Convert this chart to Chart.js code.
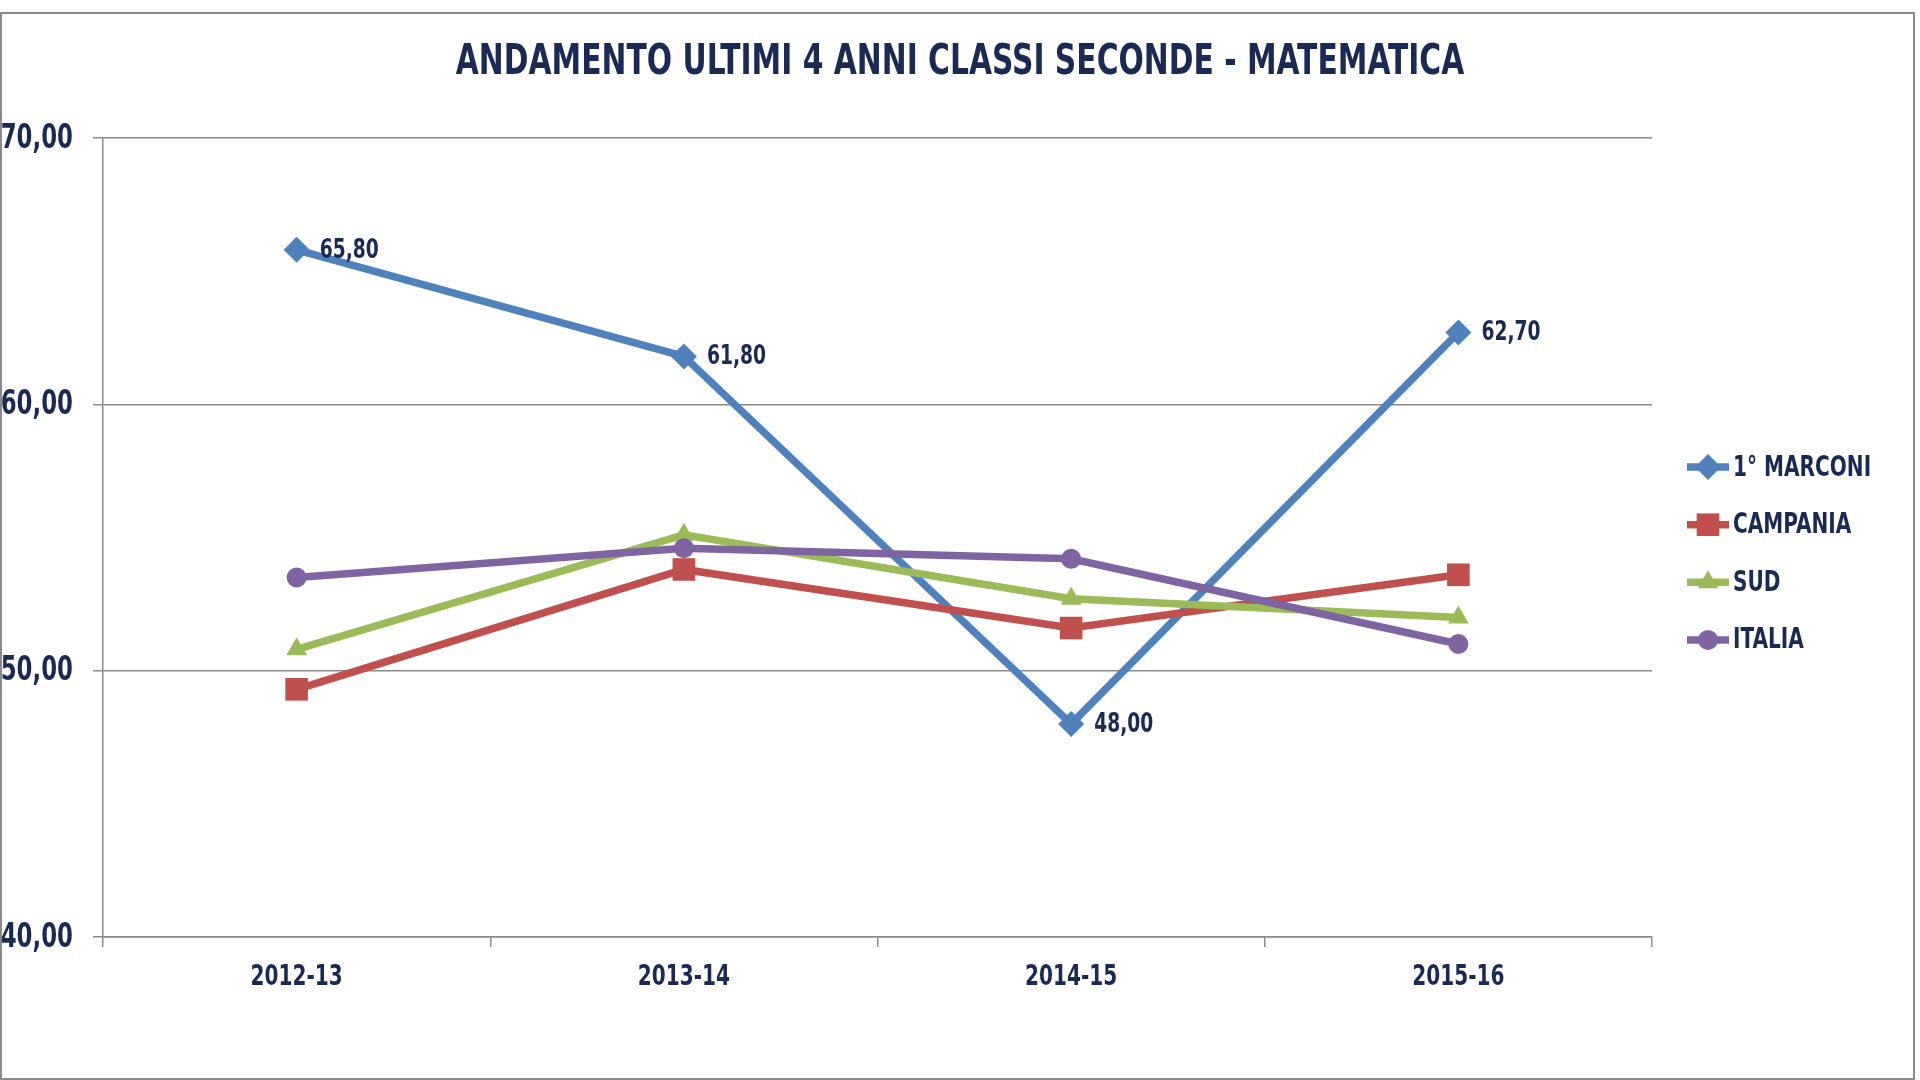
<!DOCTYPE html>
<html>
<head>
<meta charset="utf-8">
<script src="https://cdn.jsdelivr.net/npm/chart.js@4.4.0/dist/chart.umd.min.js"></script>
<style>
  html, body { margin: 0; padding: 0; background: #fff; }
  #wrap { position: relative; width: 1920px; height: 1080px; }
  #frame { position: absolute; left: 0; top: 12px; width: 1911px; height: 1064px; border: 2px solid #8a8a8a; pointer-events: none; }
  canvas { position: absolute; left: 0; top: 0; }
</style>
</head>
<body>
<div id="wrap">
  <canvas id="chart" width="1920" height="1080"></canvas>
  <div id="frame"></div>
</div>
<script>
// dati
const anni = ["2012-13", "2013-14", "2014-15", "2015-16"];
const marconi = [65.8, 61.8, 48.0, 62.7];
const campania = [49.3, 53.8, 51.6, 53.6];
const sud = [50.8, 55.1, 52.7, 52.0];
const italia = [53.5, 54.6, 54.2, 51.0];
const titolo = "ANDAMENTO ULTIMI 4 ANNI CLASSI SECONDE - MATEMATICA";

const FONT = "'DejaVu Sans Condensed', 'DejaVu Sans', sans-serif";
const NAVY = "#1b2a55";
const GRIGIO = "#8a8a8a";
const SX = 0.77; // compressione orizzontale del testo (tipo Calibri stretto)

const fmt = v => v.toFixed(2).replace(".", ",");

// testo in grassetto, schiacciato in orizzontale
function testo(ctx, str, x, y, size, align) {
  ctx.save();
  ctx.translate(x, y);
  ctx.scale(SX, 1);
  ctx.font = "bold " + size + "px " + FONT;
  ctx.fillStyle = NAVY;
  ctx.textAlign = align;
  ctx.textBaseline = "middle";
  ctx.fillText(str, 0, 0);
  ctx.restore();
}

// titolo + etichette degli assi
const textPlugin = {
  id: "testi",
  afterDraw(chart) {
    const ctx = chart.ctx;
    testo(ctx, titolo, chart.width / 2, 63, 43, "center");

    const ys = chart.scales.y;
    ys.ticks.forEach(t => {
      testo(ctx, fmt(t.value), ys.right - 30, ys.getPixelForValue(t.value) + 1, 33, "right");
    });

    const xs = chart.scales.x;
    xs.ticks.forEach((t, i) => {
      testo(ctx, xs.getLabelForValue(t.value), xs.getPixelForTick(i), xs.top + 40, 29, "center");
    });
  }
};

// etichette solo per 1° MARCONI
const labelPlugin = {
  id: "etichette",
  afterDatasetsDraw(chart) {
    const meta = chart.getDatasetMeta(0);
    meta.data.forEach((pt, i) => {
      testo(chart.ctx, fmt(chart.data.datasets[0].data[i]), pt.x + 23, pt.y + 1, 27, "left");
    });
  }
};

// legenda a destra: linea + marcatore + testo
const legendPlugin = {
  id: "legenda",
  afterDraw(chart) {
    const ctx = chart.ctx;
    const area = chart.chartArea;
    const step = 57.6;
    const x0 = area.right + 35;
    const y0 = (area.top + area.bottom) / 2 - 1.5 * step + 16;
    chart.data.datasets.forEach((ds, i) => {
      const y = y0 + i * step;
      ctx.save();
      ctx.strokeStyle = ds.borderColor;
      ctx.lineWidth = ds.borderWidth;
      ctx.beginPath();
      ctx.moveTo(x0, y);
      ctx.lineTo(x0 + 42, y);
      ctx.stroke();
      ctx.fillStyle = ds.pointBackgroundColor;
      ctx.strokeStyle = ds.pointBackgroundColor;
      Chart.helpers.drawPoint(ctx, {
        pointStyle: ds.pointStyle,
        radius: ds.pointRadius,
        rotation: 0,
        borderWidth: 0
      }, x0 + 21, y);
      ctx.restore();
      testo(ctx, ds.label, x0 + 46, y + 1, 29, "left");
    });
  }
};

function serie(label, data, colore, stile, raggio, ordine) {
  return {
    label: label,
    data: data,
    borderColor: colore,
    backgroundColor: colore,
    pointBackgroundColor: colore,
    pointBorderColor: colore,
    borderWidth: 7.5,
    pointStyle: stile,
    pointRadius: raggio,
    pointHoverRadius: raggio,
    pointBorderWidth: 0,
    tension: 0,
    fill: false,
    order: ordine
  };
}

const ctx = document.getElementById("chart").getContext("2d");
new Chart(ctx, {
  type: "line",
  data: {
    labels: anni,
    datasets: [
      serie("1° MARCONI", marconi, "#4f81bd", "rectRot", 13, 4),
      serie("CAMPANIA", campania, "#c0504d", "rect", 16, 3),
      serie("SUD", sud, "#9bbb59", "triangle", 12, 2),
      serie("ITALIA", italia, "#8064a2", "circle", 10, 1)
    ]
  },
  options: {
    responsive: false,
    animation: false,
    devicePixelRatio: 1,
    layout: { padding: { top: 138, right: 268, bottom: 0, left: 0 } },
    plugins: {
      legend: { display: false },
      title: { display: false },
      tooltip: { enabled: false }
    },
    scales: {
      x: {
        offset: true,
        grid: {
          offset: true,
          drawOnChartArea: false,
          drawTicks: true,
          tickLength: 10,
          color: GRIGIO,
          lineWidth: 1.5
        },
        border: { display: true, color: GRIGIO, width: 1.5 },
        ticks: { display: false },
        afterFit: s => { s.height = 143; }
      },
      y: {
        min: 40,
        max: 70,
        grid: {
          color: GRIGIO,
          lineWidth: 1.5,
          drawTicks: true,
          tickLength: 10
        },
        border: { display: true, color: GRIGIO, width: 1.5 },
        ticks: { stepSize: 10, display: false },
        afterFit: s => { s.width = 103; }
      }
    }
  },
  plugins: [textPlugin, labelPlugin, legendPlugin]
});
</script>
</body>
</html>
